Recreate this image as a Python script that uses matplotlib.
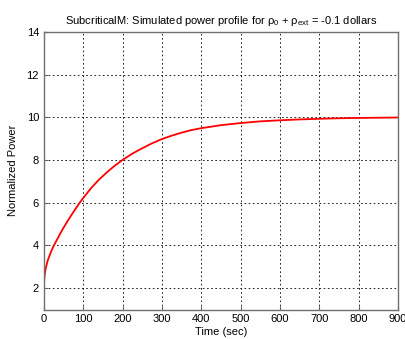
import numpy as np
import matplotlib.pyplot as plt

plt.rcParams['font.family'] = ['Liberation Sans', 'DejaVu Sans']
plt.rcParams['mathtext.fontset'] = 'custom'
plt.rcParams['mathtext.rm'] = 'Liberation Sans'
plt.rcParams['mathtext.it'] = 'Liberation Sans'
plt.rcParams['mathtext.default'] = 'regular'

# simulated power profile
time_sec = [0, 0, 2, 5, 10, 15, 20, 25, 30, 40, 50, 60, 70, 80, 90, 100,
            120, 140, 160, 180, 200, 225, 250, 275, 300, 325, 350, 375,
            400, 450, 500, 550, 600, 650, 700, 750, 800, 850, 900]
power = [1.0, 2.2, 2.6, 2.95, 3.3, 3.55, 3.78, 3.98, 4.15, 4.5, 4.83,
         5.13, 5.42, 5.7, 5.97, 6.22, 6.68, 7.08, 7.42, 7.73, 8.0, 8.3,
         8.55, 8.78, 8.98, 9.14, 9.28, 9.4, 9.49, 9.63, 9.73, 9.81, 9.86,
         9.9, 9.93, 9.955, 9.97, 9.98, 9.99]

xticks = np.arange(0, 901, 100)
yticks = np.arange(2, 15, 2)

fig = plt.figure(figsize=(4.06, 3.39), dpi=100)
ax = fig.add_axes([0.108, 0.087, 0.872, 0.819])

ax.plot(time_sec, power, color='red', lw=1.3)

ax.set_xlim(0, 900)
ax.set_ylim(1, 14)
ax.set_xticks(xticks)
ax.set_yticks(yticks)
ax.grid(True, color='black', linestyle=(0, (2, 3)), lw=0.6)
ax.tick_params(direction='in', labelsize=8, length=3, color='#606060')
for s in ax.spines.values():
    s.set_color('#707070')
    s.set_linewidth(1.0)

ax.set_xlabel('Time (sec)', fontsize=8, labelpad=2)
ax.set_ylabel('Normalized Power', fontsize=8, labelpad=6)
ax.set_title(r'SubcriticalM: Simulated power profile for $\rho_0$ + $\rho_{ext}$ = -0.1 dollars',
             fontsize=8, pad=6)

fig.savefig('out.png', dpi=100)
